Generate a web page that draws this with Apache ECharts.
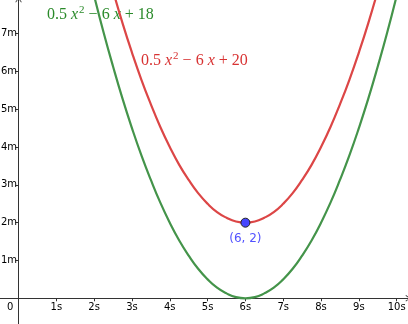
<!DOCTYPE html>
<html>
<head>
<meta charset="utf-8">
<script src="https://cdn.jsdelivr.net/npm/echarts@6/dist/echarts.min.js"></script>
<style>
	html, body { margin: 0; padding: 0; background: #fff; }
	#chart { width: 408px; height: 324px; }
</style>
</head>
<body>
<div id="chart"></div>
<script>
const xs = [1.75, 2, 2.25, 2.5, 2.75, 3, 3.25, 3.5, 3.75, 4, 4.25, 4.5, 4.75, 5, 5.25, 5.5, 5.75, 6,
	6.25, 6.5, 6.75, 7, 7.25, 7.5, 7.75, 8, 8.25, 8.5, 8.75, 9, 9.25, 9.5, 9.75, 10, 10.25]
const greenY = [9.03, 8, 7.03, 6.13, 5.28, 4.5, 3.78, 3.13, 2.53, 2, 1.53, 1.13, 0.78, 0.5, 0.28, 0.13, 0.03, 0,
	0.03, 0.13, 0.28, 0.5, 0.78, 1.13, 1.53, 2, 2.53, 3.13, 3.78, 4.5, 5.28, 6.13, 7.03, 8, 9.03]
const redY = [11.03, 10, 9.03, 8.13, 7.28, 6.5, 5.78, 5.13, 4.53, 4, 3.53, 3.13, 2.78, 2.5, 2.28, 2.13, 2.03, 2,
	2.03, 2.13, 2.28, 2.5, 2.78, 3.13, 3.53, 4, 4.53, 5.13, 5.78, 6.5, 7.28, 8.13, 9.03, 10, 11.03]
const vertex = [6, 2]
const xTicks = [1, 2, 3, 4, 5, 6, 7, 8, 9, 10]
const yTicks = [1, 2, 3, 4, 5, 6, 7]

const green = '#44944a'
const red = '#dc4646'
const arrow = 'path://M0,7 L5,0 L10,7 L9,7.8 L5,2 L1,7.8 Z'

const pairs = (ys) => xs.map((x, i) => [x, ys[i]])

const chart = echarts.init(document.getElementById('chart'))
const axisCommon = {
	type: 'value',
	splitLine: { show: false },
	axisLine: {
		onZero: true,
		symbol: ['none', arrow],
		symbolSize: [7, 5],
		lineStyle: { color: '#333', width: 1 },
	},
	axisTick: { show: true, length: 3, lineStyle: { color: '#333' } },
}
const formula = (c) => ({
	n: { fontFamily: 'Liberation Serif', fontSize: 16, fill: c },
	i: { fontFamily: 'Liberation Serif', fontStyle: 'italic', fontSize: 16, fill: c },
	s: { fontFamily: 'Liberation Serif', fontSize: 11, fill: c, verticalAlign: 'top', padding: [0, 0, 8, 1] },
})
chart.setOption({
	animation: false,
	grid: { left: 0, right: 0, top: 0, bottom: 0, containLabel: false, outerBoundsMode: 'none' },
	xAxis: {
		...axisCommon,
		min: -0.49,
		max: 10.3,
		axisTick: { ...axisCommon.axisTick, customValues: xTicks },
		axisLabel: {
			customValues: xTicks,
			formatter: (v) => v + 's',
			fontFamily: 'DejaVu Sans',
			fontSize: 10,
			color: '#000',
			margin: -22,
		},
	},
	yAxis: {
		...axisCommon,
		min: -0.68,
		max: 7.89,
		axisTick: { ...axisCommon.axisTick, customValues: yTicks },
		axisLabel: {
			customValues: yTicks,
			formatter: (v) => v + 'm',
			fontFamily: 'DejaVu Sans',
			fontSize: 10,
			color: '#000',
			margin: -17,
		},
	},
	graphic: [
		{ type: 'text', left: 7, top: 302, style: { text: '0', font: '10px DejaVu Sans', fill: '#000' } },
		{
			type: 'text', left: 47, top: 5, z: 0,
			style: { text: '{n|0.5 }{i|x}{s|2}{n| − 6 }{i|x}{n| + 18}', rich: formula('#2a8a2a') },
		},
		{
			type: 'text', left: 141, top: 51, z: 0,
			style: { text: '{n|0.5 }{i|x}{s|2}{n| − 6 }{i|x}{n| + 20}', rich: formula('#d83232') },
		},
	],
	series: [
		{
			type: 'line',
			data: pairs(redY),
			smooth: true,
			showSymbol: false,
			lineStyle: { color: red, width: 2.2 },
			z: 3,
		},
		{
			type: 'line',
			data: pairs(greenY),
			smooth: true,
			showSymbol: false,
			lineStyle: { color: green, width: 2.2 },
			z: 3,
		},
		{
			type: 'scatter',
			data: [vertex],
			symbolSize: 9,
			itemStyle: { color: '#4646ff', borderColor: '#222', borderWidth: 1, opacity: 1 },
			label: {
				show: true,
				position: 'bottom',
				distance: 5,
				formatter: (p) => '(' + p.value[0] + ', ' + p.value[1] + ')',
				fontFamily: 'DejaVu Sans',
				fontSize: 12,
				color: '#5252ff',
				opacity: 1,
			},
			z: 5,
		},
	],
})
</script>
</body>
</html>
